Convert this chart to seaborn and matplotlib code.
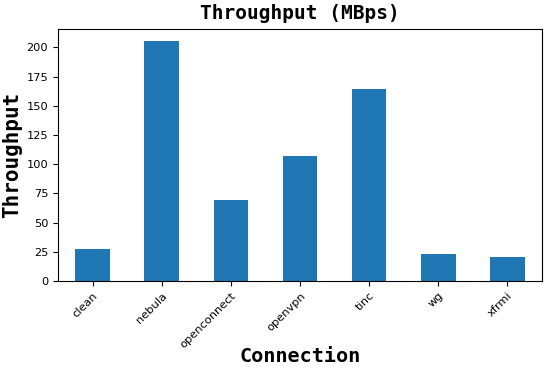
import matplotlib
matplotlib.use("Agg")
import matplotlib.pyplot as plt
import seaborn as sns
import pandas as pd

connections = ["clean", "nebula", "openconnect", "openvpn", "tinc", "wg", "xfrmi"]
throughput = [27.3, 205.5, 69.3, 106.8, 164.0, 23.3, 20.4]

df = pd.DataFrame({"Connection": connections, "Throughput": throughput})

fig = plt.figure(figsize=(5.5, 3.71), dpi=100)
ax = fig.add_axes([58/550, 1-281/371, (542-58)/550, (281-29)/371])
sns.barplot(data=df, x="Connection", y="Throughput", color="#1f77b4",
            saturation=1, width=0.5, ax=ax)
ax.set_xlim(-0.5, 6.5)
ax.set_ylim(0, max(throughput) * 1.05)
ax.set_title("Throughput (MBps)", fontsize=14, fontweight="bold",
             family="DejaVu Sans Mono", pad=7)
ax.set_xlabel("Connection", fontsize=14.5, fontweight="bold",
              family="DejaVu Sans Mono", labelpad=-2)
ax.set_ylabel("Throughput", fontsize=15, fontweight="bold",
              family="DejaVu Sans Mono", labelpad=3)
ax.tick_params(labelsize=8.2, length=3.5)
plt.setp(ax.get_xticklabels(), rotation=45, ha="right", rotation_mode="anchor")
fig.savefig("out.png", dpi=100)
